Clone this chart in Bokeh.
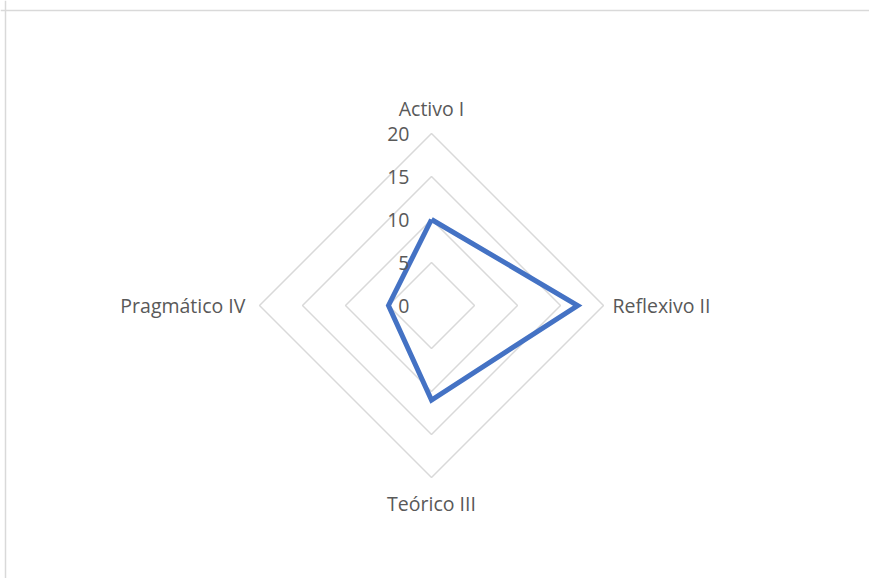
import numpy as np
from bokeh.plotting import figure
from bokeh.models import Span
from bokeh.core.properties import value
from bokeh.embed import file_html
from bokeh.resources import INLINE

categories = ["Activo I", "Reflexivo II", "Teórico III", "Pragmático  IV"]
scores = [10, 17, 11, 5]
ring_levels = [5, 10, 15, 20]
tick_values = [0, 5, 10, 15, 20]
tick_labels = ["0", "5", "10", "15", "20"]

W, H = 869, 578
cx_px, cy_px = 431, 305   # center in figure pixels
px_per_unit = 172 / 20.0

x0 = -cx_px / px_per_unit
y1 = cy_px / px_per_unit
p = figure(width=W, height=H, output_backend="svg", toolbar_location=None,
           x_range=(x0, (W - cx_px) / px_per_unit),
           y_range=(-(H - cy_px) / px_per_unit, y1),
           min_border=0)
p.axis.visible = False
p.grid.visible = False
p.outline_line_color = None
p.background_fill_color = "white"

FONT = value("Open Sans")
FS = "19.5px"
COL = "#595959"

# angles: Activo at top, then clockwise
n = len(categories)
angles = [np.pi / 2 - 2 * np.pi * i / n for i in range(n)]

for r in ring_levels:
    xs = [r * np.cos(a) for a in angles] + [r * np.cos(angles[0])]
    ys = [r * np.sin(a) for a in angles] + [r * np.sin(angles[0])]
    p.line(xs, ys, line_color="#d9d9d9", line_width=1.5)

xs = [s * np.cos(a) for s, a in zip(scores, angles)]
ys = [s * np.sin(a) for s, a in zip(scores, angles)]
p.line(xs + [xs[0]], ys + [ys[0]], line_color="#4472C4", line_width=5, line_join="miter")

# tick labels
p.text(x=[0] * len(tick_values), y=tick_values, text=tick_labels,
       text_align="right", text_baseline="middle", x_offset=-22,
       text_font=FONT, text_font_size=FS, text_color=COL)

# category labels
rmax = ring_levels[-1]
lab_x = [0, rmax, 0, -rmax]
lab_y = [rmax, 0, -rmax, 0]
aligns = ["center", "left", "center", "right"]
baselines = ["bottom", "middle", "top", "middle"]
xoffs = [0, 9, 0, -9]
yoffs = [-12, 0, 12, 0]
for i in range(n):
    p.text(x=[lab_x[i]], y=[lab_y[i]], text=[categories[i]],
           text_align=aligns[i], text_baseline=baselines[i],
           x_offset=xoffs[i], y_offset=yoffs[i],
           text_font=FONT, text_font_size=FS, text_color=COL)

# chart area border (left and top visible)
p.add_layout(Span(location=x0 + 5 / px_per_unit, dimension="height", line_color="#d9d9d9", line_width=1.5))
p.add_layout(Span(location=y1 - 10 / px_per_unit, dimension="width", line_color="#d9d9d9", line_width=1.5))

open("out.html", "w").write(file_html(p, INLINE))
